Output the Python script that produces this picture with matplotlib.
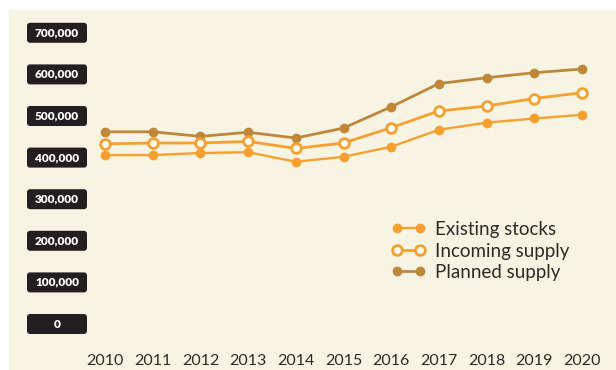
import matplotlib.pyplot as plt
from matplotlib.patches import FancyBboxPatch
from matplotlib.legend_handler import HandlerLine2D

years = [2010, 2011, 2012, 2013, 2014, 2015, 2016, 2017, 2018, 2019, 2020]
existing = [406000, 406000, 411000, 413000, 390000, 402000, 426000, 467000, 484000, 494000, 503000]
incoming = [433000, 435000, 435000, 439000, 422000, 435000, 472000, 512000, 524000, 542000, 556000]
planned = [462000, 462000, 451000, 461000, 447000, 471000, 522000, 578000, 592000, 604000, 613000]
yticks = [0, 100000, 200000, 300000, 400000, 500000, 600000, 700000]

plt.rcParams['font.family'] = ['Lato', 'DejaVu Sans']

bg = '#f8f4e3'
orange = '#f7a030'
brown = '#c0873b'
dark = '#231f20'
txt = '#2e2a27'

W, H = 616, 370
fig = plt.figure(figsize=(W / 100, H / 100), dpi=100, facecolor='white')

# beige panel behind everything
back = fig.add_axes([9 / W, 0, 1 - 9 / W, 1 - 10 / H], zorder=-10)
back.set_facecolor(bg)
back.set_xticks([])
back.set_yticks([])
for s in back.spines.values():
    s.set_visible(False)

# pixel geometry: 0 at y=324, 100k every 41.6 px; 2010 at x=105, 47.7 px per year
px100k = 41.6
y0, ytop, ybot = 324, 20, 340
ylim = (-(ybot - y0) / px100k * 1e5, (y0 - ytop) / px100k * 1e5)
ax = fig.add_axes([95 / W, 1 - ybot / H, (592 - 95) / W, (ybot - ytop) / H])
ax.set_xlim(2010 - 10 / 47.7, 2020 + 10 / 47.7)
ax.set_ylim(*ylim)
ax.patch.set_visible(False)
for s in ax.spines.values():
    s.set_visible(False)

ax.plot(years, planned, color=brown, lw=2, marker='o', ms=6, label='Planned supply', zorder=3)
ax.plot(years, incoming, color=orange, lw=2, marker='o', ms=7, mfc='white', mec=orange,
        mew=2, label='Incoming supply', zorder=4)
ax.plot(years, existing, color=orange, lw=1.7, marker='o', ms=6, label='Existing stocks', zorder=5)

ax.set_yticks([])
ax.set_xticks(years)
ax.set_xticklabels([str(y) for y in years], fontsize=11.5, color=txt)
ax.tick_params(axis='x', length=0, pad=10)

# dark rounded boxes for the y values
lab = fig.add_axes([27 / W, 1 - ybot / H, 60 / W, (ybot - ytop) / H])
lab.set_xlim(0, 60)
lab.set_ylim(*ylim)
lab.axis('off')
upp = 1e5 / px100k
for v in yticks:
    box = FancyBboxPatch((0, v - 10 * upp), 60, 20 * upp,
                         boxstyle='round,pad=0,rounding_size=3', mutation_aspect=upp,
                         facecolor=dark, edgecolor='none')
    lab.add_patch(box)
    lab.text(30, v, f'{v:,}', ha='center', va='center', color='white',
             fontsize=8.5, fontweight='heavy')

# legend: two markers per handle, sitting on the line ends
h, l = ax.get_legend_handles_labels()
order = [2, 1, 0]
ax.legend([h[i] for i in order], [l[i] for i in order], loc='upper left',
          bbox_to_anchor=((397 - 95) / (592 - 95), 1 - (221 - ytop) / (ybot - ytop)),
          frameon=False, fontsize=13.5, handlelength=1.23,
          handletextpad=0.8, labelspacing=0.24, borderpad=0, borderaxespad=0,
          labelcolor=txt,
          handler_map={hh: HandlerLine2D(numpoints=2, marker_pad=0) for hh in h})

fig.savefig('out.png', dpi=100)
